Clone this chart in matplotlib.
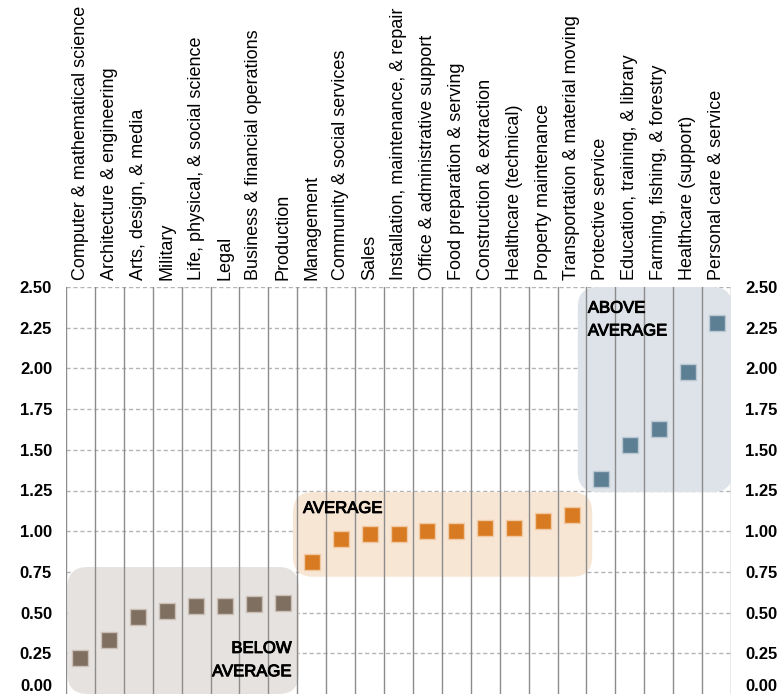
import matplotlib
matplotlib.use("Agg")
import matplotlib.pyplot as plt
import matplotlib.patheffects as pe
from matplotlib.patches import FancyBboxPatch
import numpy as np

occupations = [
    "Computer & mathematical science",
    "Architecture & engineering",
    "Arts, design, & media",
    "Military",
    "Life, physical, & social science",
    "Legal",
    "Business & financial operations",
    "Production",
    "Management",
    "Community & social services",
    "Sales",
    "Installation, maintenance, & repair",
    "Office & administrative support",
    "Food preparation & serving",
    "Construction & extraction",
    "Healthcare (technical)",
    "Property maintenance",
    "Transportation & material moving",
    "Protective service",
    "Education, training, & library",
    "Farming, fishing, & forestry",
    "Healthcare (support)",
    "Personal care & service",
]
ratio = [0.22, 0.33, 0.47, 0.51, 0.54, 0.54, 0.55, 0.56,
         0.81, 0.95, 0.98, 0.98, 1.00, 1.00, 1.02, 1.02, 1.06, 1.10,
         1.32, 1.53, 1.63, 1.98, 2.28]
group = ["below"] * 8 + ["average"] * 10 + ["above"] * 5
yticks = [0.0, 0.25, 0.5, 0.75, 1.0, 1.25, 1.5, 1.75, 2.0, 2.25, 2.5]

marker_col = {"below": "#7f6f60", "average": "#d87a21", "above": "#5d7f93"}
edge_col = {"below": "#c9bfb6", "average": "#f0c9a2", "above": "#b9c8d2"}
box_col = {"below": "#e6e2df", "average": "#f8e6d5", "above": "#dde3e8"}

plt.rcParams["font.family"] = ["Liberation Sans", "DejaVu Sans"]

W, H = 780, 694
fig = plt.figure(figsize=(W / 100, H / 100), dpi=100)
ax = fig.add_axes([66 / W, 0, (731 - 66) / W, 1 - 287 / H])

n = len(occupations)
x = np.arange(n)
ax.set_xlim(-0.5, n - 0.5)
ax.set_ylim(0, 2.5)

# shaded group panels (x in category units, y in ratio units)
px_x = (731 - 66) / n
px_y = (694 - 287) / 2.5
aspect = px_x / px_y
panels = [("below", -0.45, 7.55, 0.0, 0.78),
          ("average", 7.35, 17.7, 0.72, 1.24),
          ("above", 17.2, 22.55, 1.24, 2.5)]
r = 0.7
for g, x0, x1, y0, y1 in panels:
    p = FancyBboxPatch((x0 + r, y0 + r * aspect), (x1 - x0) - 2 * r,
                       (y1 - y0) - 2 * r * aspect,
                       boxstyle=f"round,pad={r},rounding_size={r}",
                       mutation_aspect=aspect,
                       facecolor=box_col[g], edgecolor="none", zorder=1)
    ax.add_patch(p)

# grid: dashed horizontals, solid verticals between categories
for yv in yticks[1:]:
    ax.axhline(yv, color="#b5b5b5", lw=1, ls=(0, (3, 2)), zorder=0.5)
for b in np.arange(-0.5, n - 0.5):
    ax.axvline(b, color="#8c8c8c", lw=1, zorder=2)
ax.axvline(n - 0.5, color="#8c8c8c", lw=1, zorder=0.8)

for g in ["below", "average", "above"]:
    idx = [i for i, gg in enumerate(group) if gg == g]
    ax.plot(x[idx], [ratio[i] for i in idx], ls="none", marker="s",
            markersize=11.5, markerfacecolor=marker_col[g],
            markeredgecolor=edge_col[g], markeredgewidth=1, zorder=3)

# group names, thickened slightly
note = dict(fontsize=12, color="black", zorder=4, va="center",
            path_effects=[pe.withStroke(linewidth=0.7, foreground="black")])
ax.text(7.3, 0.28, "BELOW", ha="right", **note)
ax.text(7.3, 0.137, "AVERAGE", ha="right", **note)
ax.text(7.7, 1.14, "AVERAGE", ha="left", **note)
ax.text(17.55, 2.37, "ABOVE", ha="left", **note)
ax.text(17.55, 2.23, "AVERAGE", ha="left", **note)

for s in ax.spines.values():
    s.set_visible(False)

ax.set_xticks(x)
ax.set_xticklabels(occupations, rotation=90, fontsize=13)
ax.xaxis.tick_top()
ax.tick_params(axis="x", length=0, pad=5)

ax.set_yticks(yticks)
ax.set_yticklabels([f"{v:.2f}" for v in yticks], fontsize=12, fontweight="bold")
ax.tick_params(axis="y", length=0, left=True, right=True,
               labelleft=True, labelright=True)
ax.tick_params(axis="y", which="major", pad=10)
ax.yaxis.get_major_ticks()[0].label1.set_va("bottom")
ax.yaxis.get_major_ticks()[0].label2.set_va("bottom")

fig.savefig("out.png", dpi=100)
